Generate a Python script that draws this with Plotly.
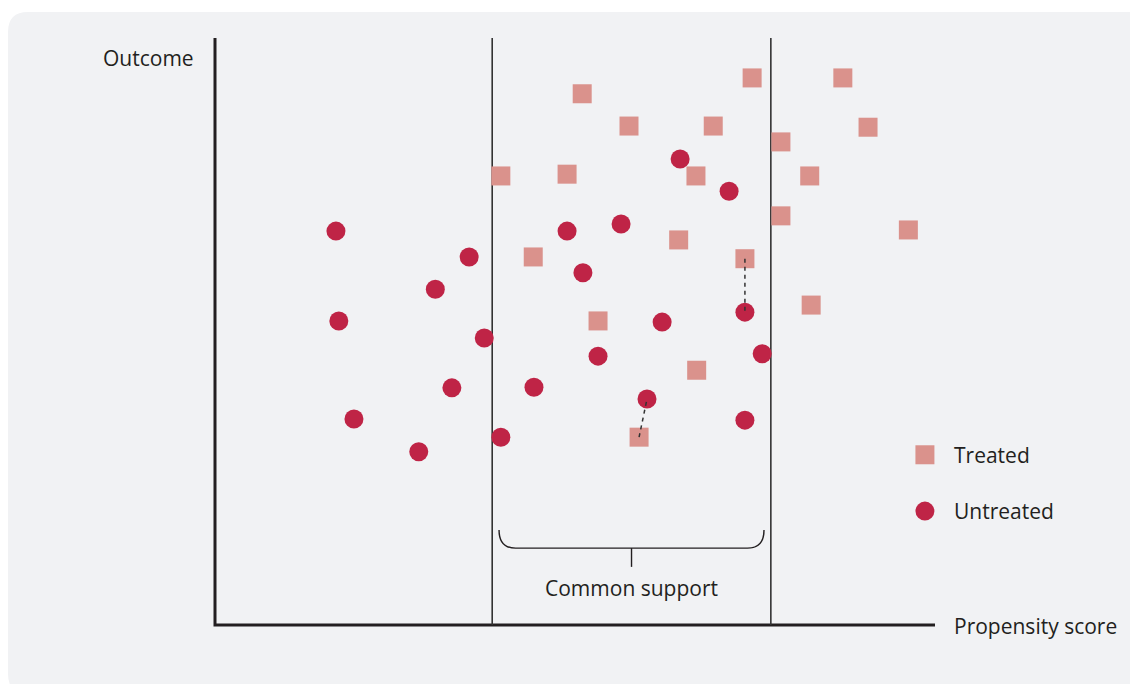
import plotly.graph_objects as go

# ---- data (propensity score on x, outcome on y, both in 0..1 axis units) ----
treated_x = [0.746, 0.872, 0.510, 0.575, 0.692, 0.907, 0.786, 0.397, 0.489, 0.668,
             0.826, 0.786, 0.963, 0.644, 0.442, 0.736, 0.828, 0.532, 0.669, 0.589]
treated_y = [0.932, 0.932, 0.905, 0.850, 0.850, 0.848, 0.823, 0.765, 0.768, 0.765,
             0.765, 0.697, 0.673, 0.656, 0.627, 0.624, 0.545, 0.518, 0.434, 0.320]

untreated_x = [0.168, 0.353, 0.306, 0.172, 0.374, 0.329, 0.193, 0.283, 0.397, 0.489,
               0.511, 0.443, 0.532, 0.564, 0.646, 0.714, 0.621, 0.736, 0.760, 0.600, 0.736]
untreated_y = [0.671, 0.627, 0.572, 0.518, 0.489, 0.404, 0.351, 0.295, 0.320, 0.671,
               0.600, 0.405, 0.458, 0.683, 0.794, 0.739, 0.516, 0.533, 0.462, 0.385, 0.349]

# matched pairs: (treated index, untreated index)
matches = [(15, 17), (19, 19)]

common_support = [0.385, 0.772]

legend_labels = ["Treated", "Untreated"]
axis_labels = {"y": "Outcome", "x": "Propensity score", "support": "Common support"}

# ---- styles ----
TREATED_COLOR = "#DA928C"
UNTREATED_COLOR = "#BF2446"
INK = "#231F20"
PANEL = "#F1F2F4"
FONT = "Open Sans"
W, H = 1130, 684
L, R, T, B = 215, 195, 38, 59
PW, PH = W - L - R, H - T - B  # plot area size in px


def px_to_paper_x(px):
    return (px - L) / PW


def px_to_paper_y(py):
    return (H - B - py) / PH


fig = go.Figure()

fig.add_trace(go.Scatter(
    x=treated_x, y=treated_y, mode="markers", name=legend_labels[0],
    marker=dict(symbol="square", size=19, color=TREATED_COLOR, line=dict(width=0)),
    cliponaxis=False, showlegend=False))
fig.add_trace(go.Scatter(
    x=untreated_x, y=untreated_y, mode="markers", name=legend_labels[1],
    marker=dict(symbol="circle", size=19, color=UNTREATED_COLOR, line=dict(width=0)),
    cliponaxis=False, showlegend=False))

for ti, ui in matches:
    fig.add_trace(go.Scatter(
        x=[treated_x[ti], untreated_x[ui]], y=[treated_y[ti], untreated_y[ui]],
        mode="lines", line=dict(color="#333333", width=1.5, dash="4px,4px"),
        cliponaxis=False, showlegend=False, hoverinfo="skip"))

# manual legend keys
leg_x = 0.986
leg_y = [0.290, 0.194]
fig.add_trace(go.Scatter(
    x=[leg_x], y=[leg_y[0]], mode="markers",
    marker=dict(symbol="square", size=19, color=TREATED_COLOR, line=dict(width=0)),
    cliponaxis=False, showlegend=False, hoverinfo="skip"))
fig.add_trace(go.Scatter(
    x=[leg_x], y=[leg_y[1]], mode="markers",
    marker=dict(symbol="circle", size=19, color=UNTREATED_COLOR, line=dict(width=0)),
    cliponaxis=False, showlegend=False, hoverinfo="skip"))

shapes = []
# panel background (rounded), paper coords relative to plot area
x0p, x1p = px_to_paper_x(8), px_to_paper_x(1145)
ytp, ybp = px_to_paper_y(12), px_to_paper_y(694)
rx, ry = 20 / PW, 20 / PH
shapes.append(dict(
    type="path", xref="paper", yref="paper", layer="below",
    path=(f"M {x0p+rx},{ytp} L {x1p},{ytp} L {x1p},{ybp} L {x0p+rx},{ybp} "
          f"Q {x0p},{ybp} {x0p},{ybp+ry} L {x0p},{ytp-ry} Q {x0p},{ytp} {x0p+rx},{ytp} Z"),
    fillcolor=PANEL, line=dict(width=0)))

# common support boundaries
for cs in common_support:
    shapes.append(dict(type="line", xref="x", yref="y", x0=cs, x1=cs, y0=0, y1=1,
                       line=dict(color="#333333", width=1.6), layer="below"))

# main axes (L shape)
shapes.append(dict(type="path", xref="paper", yref="paper", layer="below",
                   path=f"M 0,1 L 0,0 L 1,0", line=dict(color=INK, width=3)))

# brace
bl, br = common_support[0] + 0.0095, common_support[1] - 0.0095
btop, bbot = 0.162, 0.131
mid = (bl + br) / 2
shapes.append(dict(
    type="path", xref="x", yref="y",
    path=(f"M {bl},{btop} Q {bl},{bbot} {bl+0.023},{bbot} L {br-0.023},{bbot} "
          f"Q {br},{bbot} {br},{btop}"),
    line=dict(color=INK, width=1.4)))
shapes.append(dict(type="line", xref="x", yref="y", x0=mid, x1=mid, y0=bbot, y1=0.099,
                   line=dict(color=INK, width=1.4)))

annotations = [
    dict(x=px_to_paper_x(196), y=px_to_paper_y(58), text=axis_labels["y"],
         xanchor="right", yanchor="middle"),
    dict(x=px_to_paper_x(952), y=px_to_paper_y(626), text=axis_labels["x"],
         xanchor="left", yanchor="middle"),
    dict(x=mid, y=px_to_paper_y(588), text=axis_labels["support"],
         xanchor="center", yanchor="middle"),
    dict(x=px_to_paper_x(952), y=leg_y[0], text=legend_labels[0],
         xanchor="left", yanchor="middle"),
    dict(x=px_to_paper_x(952), y=leg_y[1], text=legend_labels[1],
         xanchor="left", yanchor="middle"),
]
for a in annotations:
    a.update(xref="paper", yref="paper", showarrow=False)

fig.update_layout(
    width=W, height=H,
    margin=dict(l=L, r=R, t=T, b=B),
    paper_bgcolor="white", plot_bgcolor="rgba(0,0,0,0)",
    font=dict(family=FONT, size=21, color=INK),
    shapes=shapes, annotations=annotations,
    xaxis=dict(range=[0, 1], showgrid=False, zeroline=False, showticklabels=False,
               ticks="", showline=False, fixedrange=True),
    yaxis=dict(range=[0, 1], showgrid=False, zeroline=False, showticklabels=False,
               ticks="", showline=False, fixedrange=True),
    hovermode=False,
)

fig.write_html(
    "out.html",
    config={"displayModeBar": False},
    post_script="document.body.style.margin='0';document.body.style.overflow='hidden';",
)
